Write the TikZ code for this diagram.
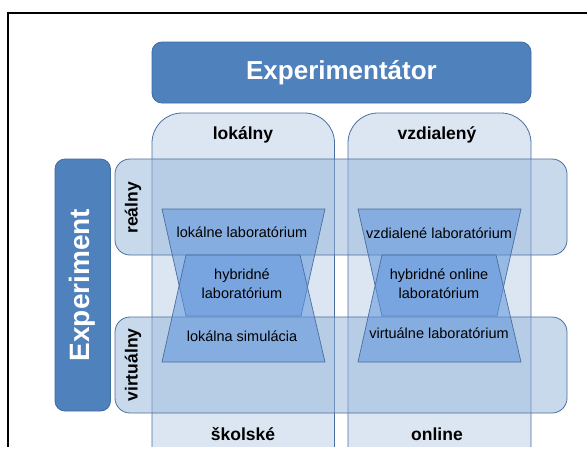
\documentclass[tikz,border=0pt]{standalone}
\usepackage{fontspec}
\setmainfont{Liberation Sans}
\definecolor{hdrblue}{HTML}{4F81BD}
\definecolor{hdrline}{HTML}{3F6C9F}
\definecolor{colfill}{HTML}{DCE6F2}
\definecolor{rowfill}{HTML}{93B3D9}
\definecolor{labfill}{HTML}{5F95DB}
\definecolor{edgeblue}{HTML}{4A6E9E}
\tikzset{
    header/.style={draw=hdrline, line width=0.8pt, fill=hdrblue, rounded corners=10pt, text=white, font=\bfseries},
    colbox/.style={draw=edgeblue, line width=0.8pt, fill=colfill, rounded corners=30pt},
    rowbox/.style={draw=edgeblue, line width=0.8pt, fill=rowfill, fill opacity=0.5, rounded corners=15pt},
    labbox/.style={draw=edgeblue, line width=0.7pt, fill=labfill, fill opacity=0.55},
    axislabel/.style={font=\fontsize{17.5}{20}\selectfont\bfseries},
    labtext/.style={font=\fontsize{14.5}{19}\selectfont, align=center, inner sep=0pt}
}

\begin{document}
\begin{tikzpicture}[x=1pt, y=-1pt]
\useasboundingbox (0,0) rectangle (587,450);
\begin{scope}
\clip (0,0) rectangle (587,446);
% frame
\draw[line width=2.2pt] (8,470) -- (8,13) -- (600,13);
% columns
\draw[colbox] (152,113) rectangle (334.5,490);
\draw[colbox] (348,113) rectangle (531,490);
% rows
\draw[rowbox] (115,159) rectangle (567,255);
\draw[rowbox] (115,317) rectangle (567,413);
% laboratories
\draw[labbox] (162,209) -- (325,209) -- (301,316) -- (186,316) -- cycle;
\draw[labbox] (186,255) -- (300,255) -- (325,362) -- (162,362) -- cycle;
\draw[labbox] (358,209) -- (521,209) -- (497,316) -- (382,316) -- cycle;
\draw[labbox] (382,255) -- (496,255) -- (521,362) -- (358,362) -- cycle;
\end{scope}

\node[header, minimum width=379pt, minimum height=61pt, font=\fontsize{26}{30}\selectfont\bfseries] (experimentator) at (341.5,72.5) {Experimentátor};
\node[header, minimum width=252pt, minimum height=55.5pt, rotate=90, font=\fontsize{28}{32}\selectfont\bfseries] (experiment) at (82.75,285) {Experiment};

\node[axislabel] (lokalny) at (243,135) {lokálny};
\node[axislabel] (vzdialeny) at (437,135) {vzdialený};
\node[axislabel] (skolske) at (243,434) {školské};
\node[axislabel] (online) at (437,434) {online};
\node[axislabel, rotate=90] (realny) at (133,208) {reálny};
\node[axislabel, rotate=90] (virtualny) at (133,365) {virtuálny};

\node[labtext] (loklab) at (242,232) {lokálne laboratórium};
\node[labtext] (hyblab) at (242,284) {hybridné\\laboratórium};
\node[labtext] (loksim) at (242,336) {lokálna simulácia};
\node[labtext] (vzdlab) at (439,233) {vzdialené laboratórium};
\node[labtext] (hybonl) at (439,284) {hybridné online\\laboratórium};
\node[labtext] (virlab) at (439,333) {virtuálne laboratórium};
\end{tikzpicture}
\end{document}
